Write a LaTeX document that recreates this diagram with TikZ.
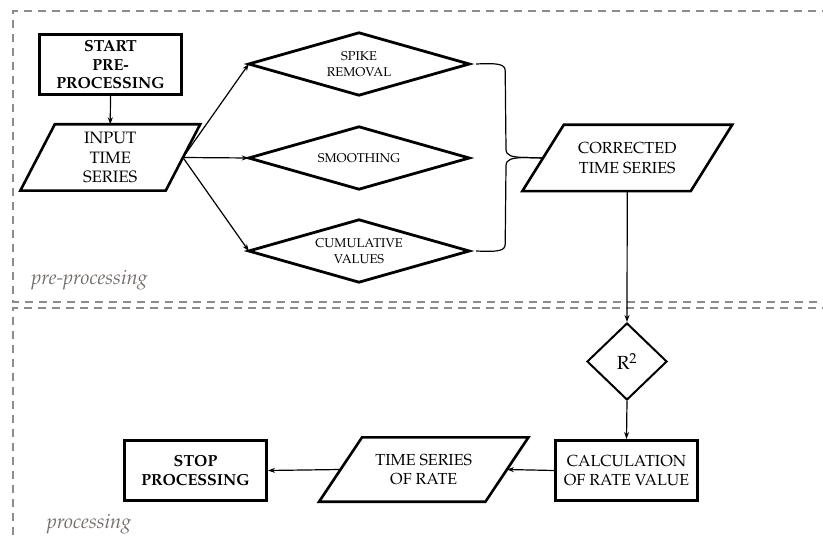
\documentclass[tikz,border=0pt]{standalone}
\usepackage[T1]{fontenc}
\usepackage{mathpazo}
\usetikzlibrary{shapes.geometric,arrows.meta,calc}
\definecolor{framegray}{RGB}{140,140,140}
\definecolor{labelgray}{RGB}{115,110,105}
\newcommand\drawpara[2]{\draw[line width=2.6pt,line join=miter]
  ($(#1.north west)+(#2/2,0)$) -- ($(#1.north east)+(#2/2,0)$) --
  ($(#1.south east)-(#2/2,0)$) -- ($(#1.south west)-(#2/2,0)$) -- cycle;}
\newcommand\drawdia[1]{\draw[line width=2.8pt,line join=miter]
  (#1.west) -- (#1.north) -- (#1.east) -- (#1.south) -- cycle;}
\begin{document}
\begin{tikzpicture}[x=1pt,y=-1pt,
  frame/.style={draw=framegray,line width=2pt,dash pattern=on 8pt off 6pt},
  sublbl/.style={font=\fontsize{20}{24}\selectfont\itshape,text=labelgray,inner sep=0},
  pbox/.style={draw,line width=3pt,minimum width=142pt,minimum height=60pt,inner sep=0,align=center},
  bigtxt/.style={font=\fontsize{16}{18.5}\selectfont},
  boldtxt/.style={font=\bfseries\fontsize{16}{18.5}\selectfont},
  dia/.style={minimum width=220pt,minimum height=62pt,inner sep=0,align=center,
    font=\fontsize{12.8}{16}\selectfont},
  para/.style={minimum height=66pt,inner sep=0,align=center,font=\fontsize{16.5}{19.5}\selectfont},
  arr/.style={line width=1.2pt,-{Stealth[length=7pt,width=5pt]}},
  conn/.style={line width=1.2pt}]
\useasboundingbox (0,0) rectangle (823,540);
% frames
\draw[frame] (830,11) -- (13,11) -- (13,302) -- (830,302);
\draw[frame,line width=1.6pt] (830,308) -- (13,308) -- (13,545);
\node[sublbl] (lblpre) at (89.5,280) {pre-processing};
\node[sublbl] (lblpro) at (89,524) {processing};
% nodes
\node[pbox,line width=3.5pt,boldtxt] (start) at (110.5,64.5) {START\\PRE-\\PROCESSING};
\node[para,minimum width=145pt] (input) at (110.25,157.5) {INPUT\\TIME\\SERIES};
\drawpara{input}{34.5}
\node[dia] (spike) at (359,64) {SPIKE\\REMOVAL};
\drawdia{spike}
\node[dia] (smooth) at (359,158) {SMOOTHING};
\drawdia{smooth}
\node[dia] (cumul) at (359,251) {CUMULATIVE\\VALUES};
\drawdia{cumul}
\node[para,minimum width=168pt,font=\fontsize{16}{20}\selectfont] (corr) at (627.25,158) {CORRECTED\\TIME SERIES};
\drawpara{corr}{41.5}
\node[draw,diamond,line width=2pt,minimum width=80pt,minimum height=77pt,inner sep=0,
  font=\fontsize{19}{22}\selectfont] (r2) at (627,361.5) {R\textsuperscript{2}};
\node[pbox,bigtxt] (calc) at (626.5,470.5) {CALCULATION\\OF RATE VALUE};
\node[para,minimum width=166pt,minimum height=64pt,font=\fontsize{16}{19.5}\selectfont] (rate) at (423.75,469.5) {TIME SERIES\\OF RATE};
\drawpara{rate}{43}
\node[pbox,boldtxt] (stop) at (195.5,470.5) {STOP\\PROCESSING};
% connectors
\draw[arr] (start.south) -- (input.north);
\draw[arr] (input.east) -- (spike.west);
\draw[arr] (input.east) -- (smooth.west);
\draw[arr] (input.east) -- (cumul.west);
% brace
\coordinate (btop) at ($(spike.east)+(7,0)$);
\coordinate (bbot) at ($(cumul.east)+(7,0)$);
\coordinate (btip) at (corr.west);
\draw[conn] (btop) .. controls ($(btop)+(22,-1)$) and ($(btop)+(29,0)$) .. ($(btop)+(29,7)$)
  -- (506,149) .. controls (506,156) and (512,157) .. (524,157.5) -- (btip);
\draw[conn] (btip) -- (524,157.5) .. controls (512,158) and (506,159) .. (506,166)
  -- ($(bbot)+(29,-7)$) .. controls ($(bbot)+(29,0)$) and ($(bbot)+(22,1)$) .. (bbot);
\draw[arr] (corr.south) -- (r2.north);
\draw[arr] (r2.south) -- (calc.north);
\draw[arr] (calc.west) -- (rate.east);
\draw[arr] (rate.west) -- (stop.east);
\end{tikzpicture}
\end{document}
